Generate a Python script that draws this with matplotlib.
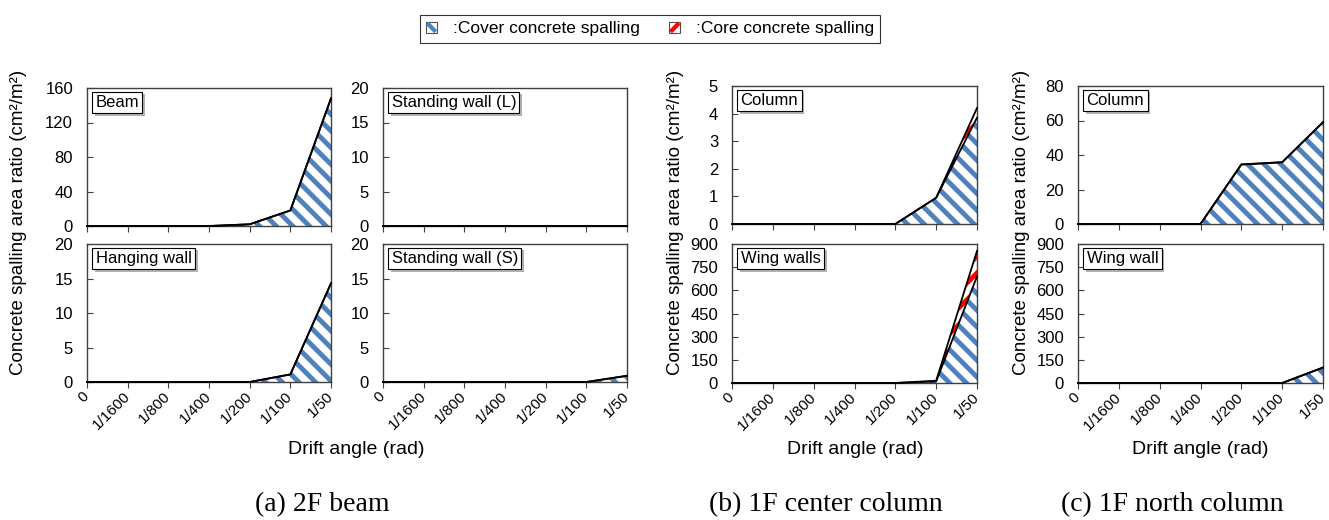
import matplotlib
matplotlib.use("Agg")
import matplotlib.pyplot as plt
import matplotlib.patheffects as pe
import matplotlib.transforms as mtransforms
from matplotlib.patches import Patch, Rectangle
from matplotlib.lines import Line2D
from matplotlib.legend_handler import HandlerBase

plt.rcParams['font.family'] = ['Liberation Sans', 'DejaVu Sans']
plt.rcParams['hatch.linewidth'] = 3.5

BLUE = '#4F81BD'
RED = '#FF0000'

ANGLES = ['0', '1/1600', '1/800', '1/400', '1/200', '1/100', '1/50']

# (a) 2F beam
beam_cover = [0, 0, 0, 0, 2, 18, 148]
beam_core = [0, 0, 0, 0, 0, 0, 0]
wall_l_cover = [0, 0, 0, 0, 0, 0, 0]
wall_l_core = [0, 0, 0, 0, 0, 0, 0]
hanging_cover = [0, 0, 0, 0, 0, 1.1, 14.3]
hanging_core = [0, 0, 0, 0, 0, 0, 0]
wall_s_cover = [0, 0, 0, 0, 0, 0, 0.9]
wall_s_core = [0, 0, 0, 0, 0, 0, 0]

# (b) 1F center column
ccol_cover = [0, 0, 0, 0, 0, 0.95, 3.85]
ccol_core = [0, 0, 0, 0, 0, 0, 0.35]
cwing_cover = [0, 0, 0, 0, 0, 10, 690]
cwing_core = [0, 0, 0, 0, 0, 5, 165]

# (c) 1F north column
ncol_cover = [0, 0, 0, 0, 34.5, 35.8, 59]
ncol_core = [0, 0, 0, 0, 0, 0, 0]
nwing_cover = [0, 0, 0, 0, 0, 0, 100]
nwing_core = [0, 0, 0, 0, 0, 0, 0]

W, H = 1329, 520


class StripeHandler(HandlerBase):
    # legend icon: white square crossed by one thick stripe
    def __init__(self, color, down):
        super().__init__()
        self.color = color
        self.down = down

    def create_artists(self, legend, orig_handle, xdescent, ydescent, width, height, fontsize, trans):
        x0, y0 = -xdescent, -ydescent
        x1, y1 = x0 + width, y0 + height
        rect = Rectangle((x0, y0), width, height, facecolor='white', edgecolor='#505050',
                         lw=0.8, transform=trans)
        if self.down:
            xs, ys = [x0 + 1, x1 - 1], [y1 - 1, y0 + 1]
        else:
            xs, ys = [x0 + 1, x1 - 1], [y0 + 1, y1 - 1]
        line = Line2D(xs, ys, color=self.color, lw=3, solid_capstyle='butt', transform=trans)
        return [rect, line]


def add_axes(fig, left, top, right, bottom):
    return fig.add_axes([left / W, 1 - bottom / H, (right - left) / W, (bottom - top) / H])


def draw_panel(fig, ax, cover, core, ymax, ystep, label, show_x=True):
    x = list(range(len(ANGLES)))
    total = [c + k for c, k in zip(cover, core)]
    ax.fill_between(x, 0, cover, facecolor='white', edgecolor=BLUE, hatch='\\\\', linewidth=0)
    ax.fill_between(x, cover, total, facecolor='white', edgecolor=RED, hatch='//', linewidth=0)
    ax.plot(x, cover, color='black', lw=1.3, clip_on=False, zorder=3)
    ax.plot(x, total, color='black', lw=1.3, clip_on=False, zorder=3)
    ax.set_xlim(0, len(ANGLES) - 1)
    ax.set_ylim(0, ymax)
    ax.set_yticks([ystep * i for i in range(int(round(ymax / ystep)) + 1)])
    ax.set_xticks(x)
    if show_x:
        ax.set_xticklabels(ANGLES, rotation=45, ha='right', va='center', rotation_mode='anchor')
        shift = mtransforms.ScaledTranslation(-2 / 100, 0, fig.dpi_scale_trans)
        for lab in ax.get_xticklabels():
            lab.set_transform(lab.get_transform() + shift)
    else:
        ax.set_xticklabels([])
    ax.tick_params(axis='y', direction='in', length=4, width=0.8, labelsize=12, pad=10, color='#404040')
    ax.tick_params(axis='x', direction='out', length=4, width=0.8, labelsize=11, pad=5, color='#404040')
    for s in ax.spines.values():
        s.set_color('#404040')
        s.set_linewidth(1)
    t = ax.text(0.035, 0.95, label, transform=ax.transAxes, fontsize=12, va='top', ha='left',
                bbox=dict(boxstyle='square,pad=0.2', facecolor='white', edgecolor='black', lw=0.8),
                zorder=5)
    t.get_bbox_patch().set_path_effects([pe.withSimplePatchShadow(offset=(2, -2), shadow_rgbFace='gray', alpha=0.6)])


fig = plt.figure(figsize=(W / 100, H / 100), dpi=100)

ax = add_axes(fig, 87, 88, 331, 226)
draw_panel(fig, ax, beam_cover, beam_core, 160, 40, 'Beam', show_x=False)
ax = add_axes(fig, 383, 88, 627, 226)
draw_panel(fig, ax, wall_l_cover, wall_l_core, 20, 5, 'Standing wall (L)', show_x=False)
ax = add_axes(fig, 87, 244, 331, 382)
draw_panel(fig, ax, hanging_cover, hanging_core, 20, 5, 'Hanging wall')
ax = add_axes(fig, 383, 244, 627, 382)
draw_panel(fig, ax, wall_s_cover, wall_s_core, 20, 5, 'Standing wall (S)')

ax = add_axes(fig, 732, 86, 977, 224)
draw_panel(fig, ax, ccol_cover, ccol_core, 5, 1, 'Column', show_x=False)
ax = add_axes(fig, 732, 244, 977, 383)
draw_panel(fig, ax, cwing_cover, cwing_core, 900, 150, 'Wing walls')

ax = add_axes(fig, 1078, 86, 1323, 224)
draw_panel(fig, ax, ncol_cover, ncol_core, 80, 20, 'Column', show_x=False)
ax = add_axes(fig, 1078, 244, 1323, 383)
draw_panel(fig, ax, nwing_cover, nwing_core, 900, 150, 'Wing wall')

ylab = 'Concrete spalling area ratio (cm²/m²)'
for xc in [19, 676, 1021]:
    fig.text(xc / W, 1 - 222 / H, ylab, rotation=90, ha='center', va='center', fontsize=13.5)

for xc in [356, 855, 1200]:
    fig.text(xc / W, 1 - 450 / H, 'Drift angle (rad)', ha='center', va='center', fontsize=14)

captions = ['(a) 2F beam', '(b) 1F center column', '(c) 1F north column']
for xc, cap in zip([322, 826, 1172], captions):
    fig.text(xc / W, 1 - 505 / H, cap, ha='center', va='center', fontsize=20,
             family=['Liberation Serif', 'DejaVu Serif'])

cover_handle = Patch(facecolor='white', edgecolor=BLUE)
core_handle = Patch(facecolor='white', edgecolor=RED)
leg = fig.legend([cover_handle, core_handle], [':Cover concrete spalling', ':Core concrete spalling'],
                 ncol=2, loc='center', bbox_to_anchor=(650 / W, 1 - 29 / H), fontsize=12.5,
                 frameon=True, fancybox=False, handlelength=0.65, handleheight=0.65,
                 handletextpad=0.9, columnspacing=1.7, borderpad=0.35,
                 handler_map={cover_handle: StripeHandler(BLUE, True),
                              core_handle: StripeHandler(RED, False)})
leg.get_frame().set_edgecolor('black')
leg.get_frame().set_linewidth(0.8)

fig.savefig('out.png', dpi=100)
